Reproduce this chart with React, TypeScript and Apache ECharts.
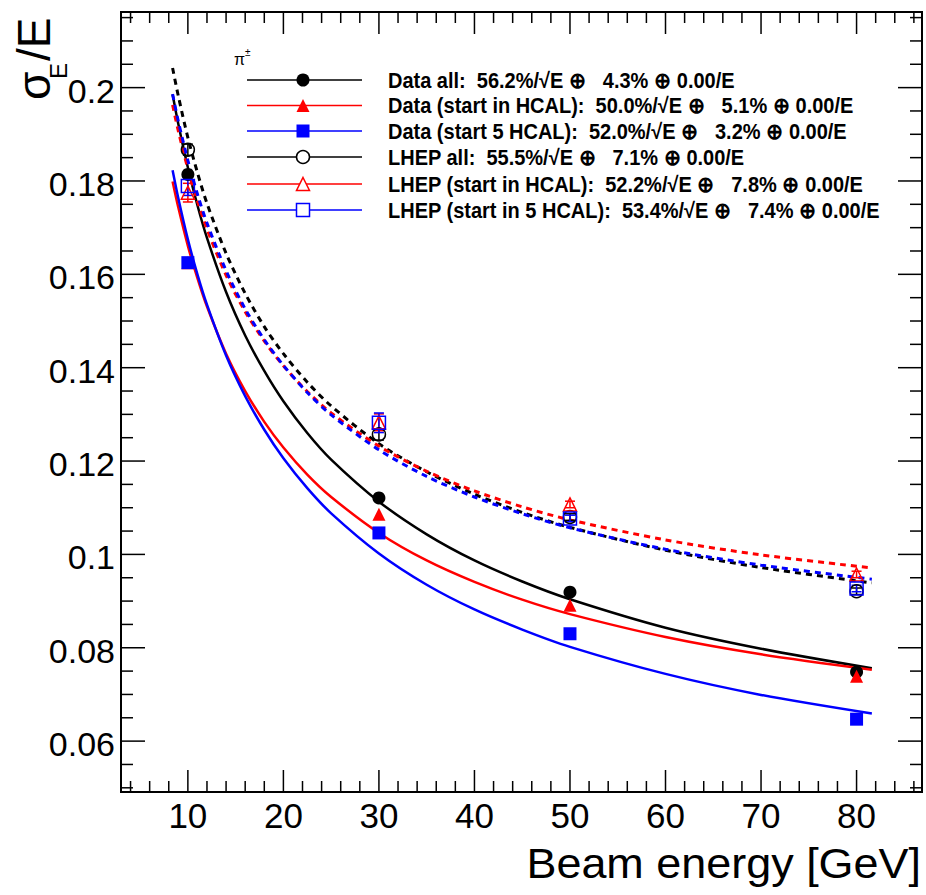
import React, { useEffect, useRef } from "react";
import * as echarts from "echarts";

// ---- measured points ----
const ENERGIES = [10, 30, 50, 80];
const DATA_ALL = [0.1814, 0.1121, 0.0919, 0.0748];
const DATA_HCAL = [0.1625, 0.1086, 0.0891, 0.0739];
const DATA_5HCAL = [0.1625, 0.1046, 0.083, 0.0647];
const LHEP_ALL = [0.1867, 0.1257, 0.108, 0.0921];
const LHEP_HCAL = [0.1775, 0.1283, 0.1107, 0.0957];
const LHEP_5HCAL = [0.1789, 0.1282, 0.1077, 0.0927];
const LHEP_ALL_ERR = [0.0012, 0.0012, 0.0007, 0.0007];
const LHEP_HCAL_ERR = [0.002, 0.0018, 0.0007, 0.0007];
const LHEP_5HCAL_ERR = [0.002, 0.0021, 0.0007, 0.0007];

// ---- fitted curves ----
const FIT_E = [8.4, 9, 10, 11, 12, 14, 16, 18, 20, 22.5, 25, 30, 35, 40, 45, 50, 60, 70, 81.6];
const FIT_DATA_ALL = [0.1986, 0.1922, 0.1829, 0.1748, 0.1678, 0.1562, 0.1469, 0.1393, 0.1328, 0.126, 0.1203, 0.1113, 0.1043, 0.0987, 0.0942, 0.0904, 0.0843, 0.0798, 0.0756];
const FIT_DATA_HCAL = [0.1799, 0.1743, 0.1661, 0.1592, 0.1531, 0.143, 0.135, 0.1284, 0.1229, 0.1171, 0.1123, 0.1046, 0.0987, 0.0941, 0.0903, 0.0872, 0.0823, 0.0786, 0.0753];
const FIT_DATA_5HCAL = [0.1823, 0.1763, 0.1675, 0.16, 0.1535, 0.1426, 0.1339, 0.1267, 0.1206, 0.1142, 0.1088, 0.1002, 0.0935, 0.0882, 0.0839, 0.0802, 0.0744, 0.0699, 0.0659];
const FIT_LHEP_ALL = [0.2042, 0.1982, 0.1893, 0.1818, 0.1752, 0.1645, 0.1559, 0.1488, 0.143, 0.1369, 0.1318, 0.1237, 0.1177, 0.1129, 0.109, 0.1058, 0.1009, 0.0972, 0.0939];
const FIT_LHEP_HCAL = [0.1963, 0.1907, 0.1826, 0.1757, 0.1697, 0.1598, 0.152, 0.1457, 0.1404, 0.1349, 0.1303, 0.1232, 0.1178, 0.1136, 0.1102, 0.1074, 0.1031, 0.0999, 0.0971];
const FIT_LHEP_5HCAL = [0.1986, 0.1928, 0.1844, 0.1772, 0.171, 0.1608, 0.1526, 0.146, 0.1405, 0.1347, 0.1299, 0.1224, 0.1167, 0.1123, 0.1087, 0.1057, 0.1011, 0.0977, 0.0947];

// ---- axes ----
const X_MIN = 3.0;
const X_MAX = 86.85;
const Y_MIN = 0.0491;
const Y_MAX = 0.2162;
const X_MAJOR = [10, 20, 30, 40, 50, 60, 70, 80];
const X_LABELS = ["10", "20", "30", "40", "50", "60", "70", "80"];
const X_MINOR = [4, 6, 8, 12, 14, 16, 18, 22, 24, 26, 28, 32, 34, 36, 38, 42, 44, 46, 48, 52, 54, 56, 58, 62, 64, 66, 68, 72, 74, 76, 78, 82, 84, 86];
const Y_MAJOR = [0.06, 0.08, 0.1, 0.12, 0.14, 0.16, 0.18, 0.2];
const Y_LABELS = ["0.06", "0.08", "0.1", "0.12", "0.14", "0.16", "0.18", "0.2"];
const Y_MINOR = [0.05, 0.055, 0.065, 0.07, 0.075, 0.085, 0.09, 0.095, 0.105, 0.11, 0.115, 0.125, 0.13, 0.135, 0.145, 0.15, 0.155, 0.165, 0.17, 0.175, 0.185, 0.19, 0.195, 0.205, 0.21, 0.215];

const X_TITLE = "Beam energy [GeV]";
const LEGEND_HEADER = "π";
const LEGEND_HEADER_SUP = "±";
const NB = "\u00A0";
const LEGEND_TEXTS = [
  `Data all:${NB}${NB}56.2%/√E ⊕${NB}${NB}${NB}4.3% ⊕ 0.00/E`,
  `Data (start in HCAL):${NB}${NB}50.0%/√E ⊕${NB}${NB}${NB}5.1% ⊕ 0.00/E`,
  `Data (start 5 HCAL):${NB}${NB}52.0%/√E ⊕${NB}${NB}${NB}3.2% ⊕ 0.00/E`,
  `LHEP all:${NB}${NB}55.5%/√E ⊕${NB}${NB}${NB}7.1% ⊕ 0.00/E`,
  `LHEP (start in HCAL):${NB}${NB}52.2%/√E ⊕${NB}${NB}${NB}7.8% ⊕ 0.00/E`,
  `LHEP (start in 5 HCAL):${NB}${NB}53.4%/√E ⊕${NB}${NB}${NB}7.4% ⊕ 0.00/E`,
];

const BLACK = "#000000";
const RED = "#ff0000";
const BLUE = "#0000ff";
const FONT = "'Liberation Sans', Arial, Helvetica, sans-serif";

type Marker = { symbol: string; filled: boolean; color: string };
const MARKERS: Marker[] = [
  { symbol: "circle", filled: true, color: BLACK },
  { symbol: "triangle", filled: true, color: RED },
  { symbol: "rect", filled: true, color: BLUE },
  { symbol: "circle", filled: false, color: BLACK },
  { symbol: "triangle", filled: false, color: RED },
  { symbol: "rect", filled: false, color: BLUE },
];
const SYMBOL_SIZE = 13;

function pairs(xs: number[], ys: number[]) {
  return xs.map((x, i) => [x, ys[i]]);
}

function fitSeries(ys: number[], color: string, dashed: boolean) {
  return {
    type: "line",
    data: pairs(FIT_E, ys),
    smooth: 0.3,
    showSymbol: false,
    symbol: "none",
    silent: true,
    z: 2,
    lineStyle: { color, width: dashed ? 3 : 2.5, type: dashed ? [6, 5] : "solid", opacity: 1 },
  };
}

function pointSeries(ys: number[], m: Marker, z: number) {
  return {
    type: "scatter",
    data: pairs(ENERGIES, ys),
    symbol: m.symbol,
    symbolSize: SYMBOL_SIZE,
    silent: true,
    z,
    itemStyle: m.filled
      ? { color: m.color, opacity: 1 }
      : { color: "rgba(255,255,255,0)", borderColor: m.color, borderWidth: 1.5, opacity: 1 },
  };
}

function errorSeries(ys: number[], errs: number[], color: string) {
  return {
    type: "custom",
    silent: true,
    z: 4,
    data: ENERGIES.map((x, i) => [x, ys[i], errs[i]]),
    renderItem: (_p: any, api: any) => {
      const x = api.value(0);
      const y = api.value(1);
      const e = api.value(2);
      const lo = api.coord([x, y - e]);
      const hi = api.coord([x, y + e]);
      const st = { stroke: color, lineWidth: 1.5 };
      return {
        type: "group",
        children: [
          { type: "line", shape: { x1: lo[0], y1: lo[1], x2: hi[0], y2: hi[1] }, style: st },
          { type: "line", shape: { x1: lo[0] - 5, y1: lo[1], x2: lo[0] + 5, y2: lo[1] }, style: st },
          { type: "line", shape: { x1: hi[0] - 5, y1: hi[1], x2: hi[0] + 5, y2: hi[1] }, style: st },
        ],
      };
    },
  };
}

function legendMarker(m: Marker, cx: number, cy: number) {
  const h = SYMBOL_SIZE / 2;
  const style = m.filled
    ? { fill: m.color, stroke: m.color, lineWidth: 0 }
    : { fill: "#ffffff", stroke: m.color, lineWidth: 1.5 };
  if (m.symbol === "circle") return { type: "circle", shape: { cx, cy, r: h }, style, z: 101 };
  if (m.symbol === "rect") return { type: "rect", shape: { x: cx - h, y: cy - h, width: 2 * h, height: 2 * h }, style, z: 101 };
  return {
    type: "polygon",
    shape: { points: [[cx, cy - h], [cx + h, cy + h], [cx - h, cy + h]] },
    style,
    z: 101,
  };
}

export default function App() {
  const ref = useRef<HTMLDivElement>(null);
  useEffect(() => {
    if (!ref.current) return;
    const chart = echarts.init(ref.current, null, { renderer: "svg" });

    const xTickData = [
      ...X_MAJOR.map((v, i) => [v, Y_MIN, 1, i]),
      ...X_MINOR.map((v) => [v, Y_MIN, 0, -1]),
    ];
    const yTickData = [
      ...Y_MAJOR.map((v, i) => [X_MIN, v, 1, i]),
      ...Y_MINOR.map((v) => [X_MIN, v, 0, -1]),
    ];

    const tickStyle = { stroke: "#000", lineWidth: 1.5 };

    const legendRowsY = [80, 105.5, 131, 157, 184, 210];
    const legendEls: any[] = [];
    LEGEND_TEXTS.forEach((t, i) => {
      const y = legendRowsY[i];
      const m = MARKERS[i];
      legendEls.push({ type: "line", shape: { x1: 247, y1: y, x2: 362, y2: y }, style: { stroke: m.color, lineWidth: 1.5 }, z: 100 });
      legendEls.push(legendMarker(m, 303, y));
      legendEls.push({
        type: "text",
        x: 388,
        y,
        z: 100,
        scaleY: 1.08,
        style: { text: t, fontSize: 20, fontWeight: "bold", fontFamily: FONT, fill: "#000", align: "left", verticalAlign: "middle" },
      });
    });

    const option: any = {
      animation: false,
      backgroundColor: "#ffffff",
      grid: { left: 121, top: 12, right: 4, bottom: 103, show: true, borderColor: "#000", borderWidth: 2, backgroundColor: "transparent" },
      xAxis: { type: "value", min: X_MIN, max: X_MAX, show: false },
      yAxis: { type: "value", min: Y_MIN, max: Y_MAX, show: false },
      series: [
        fitSeries(FIT_DATA_ALL, BLACK, false),
        fitSeries(FIT_DATA_HCAL, RED, false),
        fitSeries(FIT_DATA_5HCAL, BLUE, false),
        fitSeries(FIT_LHEP_ALL, BLACK, true),
        fitSeries(FIT_LHEP_HCAL, RED, true),
        fitSeries(FIT_LHEP_5HCAL, BLUE, true),
        pointSeries(DATA_ALL, MARKERS[0], 5),
        pointSeries(DATA_HCAL, MARKERS[1], 6),
        pointSeries(DATA_5HCAL, MARKERS[2], 7),
        errorSeries(LHEP_ALL, LHEP_ALL_ERR, BLACK),
        errorSeries(LHEP_HCAL, LHEP_HCAL_ERR, RED),
        errorSeries(LHEP_5HCAL, LHEP_5HCAL_ERR, BLUE),
        pointSeries(LHEP_ALL, MARKERS[3], 8),
        pointSeries(LHEP_HCAL, MARKERS[4], 9),
        pointSeries(LHEP_5HCAL, MARKERS[5], 10),
        {
          type: "custom",
          silent: true,
          clip: false,
          z: 20,
          data: xTickData,
          renderItem: (_p: any, api: any) => {
            const v = api.value(0);
            const major = api.value(2) === 1;
            const idx = api.value(3);
            const b = api.coord([v, Y_MIN]);
            const t = api.coord([v, Y_MAX]);
            const len = major ? 22 : 11;
            const children: any[] = [
              { type: "line", shape: { x1: b[0], y1: b[1], x2: b[0], y2: b[1] - len }, style: tickStyle },
              { type: "line", shape: { x1: t[0], y1: t[1], x2: t[0], y2: t[1] + len }, style: tickStyle },
            ];
            if (major) {
              children.push({
                type: "text",
                x: b[0],
                y: b[1] + 23,
                style: { text: X_LABELS[idx], fontSize: 35, fontFamily: FONT, fill: "#000", align: "center", verticalAlign: "middle" },
              });
            }
            return { type: "group", children };
          },
        },
        {
          type: "custom",
          silent: true,
          clip: false,
          z: 20,
          data: yTickData,
          renderItem: (_p: any, api: any) => {
            const v = api.value(1);
            const major = api.value(2) === 1;
            const idx = api.value(3);
            const l = api.coord([X_MIN, v]);
            const r = api.coord([X_MAX, v]);
            const len = major ? 24 : 12;
            const children: any[] = [
              { type: "line", shape: { x1: l[0], y1: l[1], x2: l[0] + len, y2: l[1] }, style: tickStyle },
              { type: "line", shape: { x1: r[0], y1: r[1], x2: r[0] - len, y2: r[1] }, style: tickStyle },
            ];
            if (major) {
              children.push({
                type: "text",
                x: l[0] - 6,
                y: l[1] + 3,
                style: { text: Y_LABELS[idx], fontSize: 34, fontFamily: FONT, fill: "#000", align: "right", verticalAlign: "middle" },
              });
            }
            return { type: "group", children };
          },
        },
      ],
      graphic: {
        elements: [
          {
            type: "text",
            x: 921,
            y: 864,
            scaleX: 1.07,
            style: { text: X_TITLE, fontSize: 42, fontFamily: FONT, fill: "#000", align: "right", verticalAlign: "middle" },
          },
          {
            type: "group",
            x: 50,
            y: 100,
            rotation: Math.PI / 2,
            children: [
              { type: "text", x: 0, y: -16, style: { text: "σ", fontSize: 46, fontFamily: FONT, fill: "#000", align: "left", verticalAlign: "middle" } },
              { type: "text", x: 21, y: 8.5, style: { text: "E", fontSize: 24, fontFamily: FONT, fill: "#000", align: "left", verticalAlign: "middle" } },
              { type: "text", x: 39, y: -16, style: { text: "/E", fontSize: 46, fontFamily: FONT, fill: "#000", align: "left", verticalAlign: "middle" } },
            ],
          },
          { type: "text", x: 234, y: 59, style: { text: LEGEND_HEADER, fontSize: 16, fontFamily: FONT, fill: "#000", align: "left", verticalAlign: "middle" } },
          { type: "text", x: 245, y: 52, style: { text: LEGEND_HEADER_SUP, fontSize: 10, fontFamily: FONT, fill: "#000", align: "left", verticalAlign: "middle" } },
          ...legendEls,
        ],
      },
    };
    chart.setOption(option);
    return () => chart.dispose();
  }, []);
  return (
    <div
      ref={ref}
      style={{ position: "absolute", left: 0, top: 0, width: 926, height: 895, background: "#fff" }}
    />
  );
}
